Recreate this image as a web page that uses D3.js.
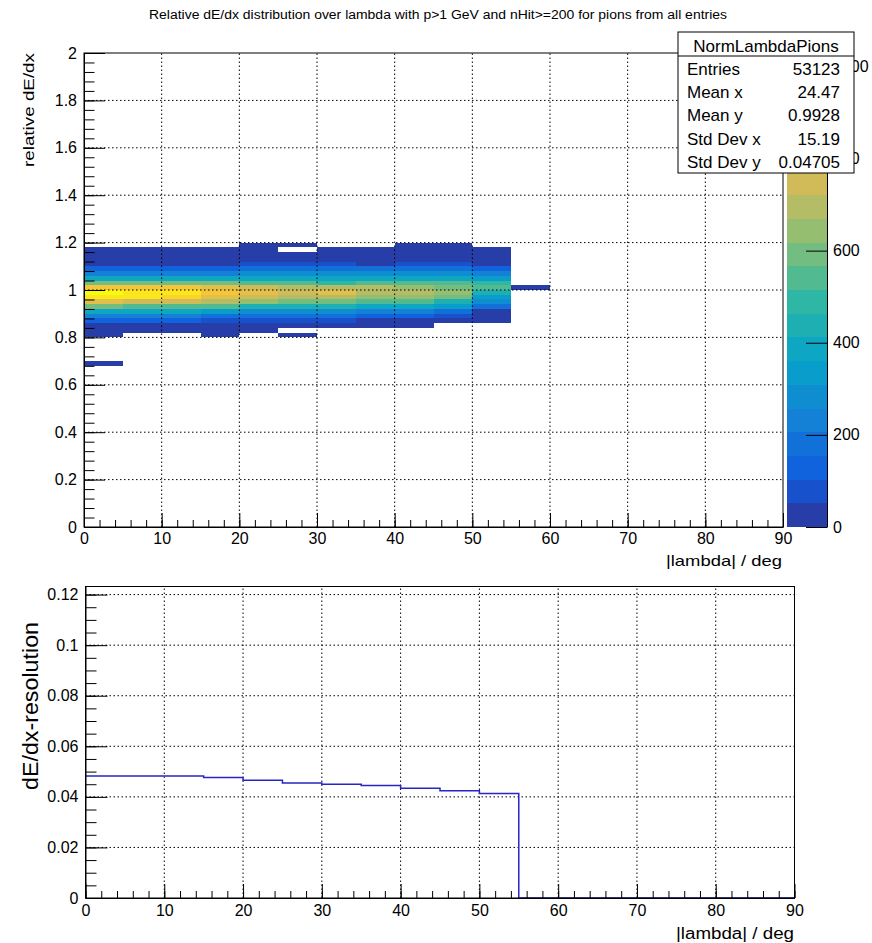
<!DOCTYPE html>
<html><head><meta charset="utf-8">
<script src="https://cdn.jsdelivr.net/npm/d3@7"></script>
<style>
body{margin:0;background:#fff}
svg text{font-family:"Liberation Sans",Arial,Helvetica,sans-serif;fill:#000}
</style></head>
<body><svg id="c" width="872" height="943"></svg>
<script>
// ---------------- DATA ----------------
const lambdaLow = [0,5,10,15,20,25,30,35,40,45,50,55];      // |lambda| bin lower edges (deg)
const lambdaWidth = 5;
const dedxLow = [0.80,0.82,0.84,0.86,0.88,0.90,0.92,0.94,0.96,0.98,1.00,1.02,1.04,1.06,1.08,1.10,1.12,1.14,1.16,1.18];
const dedxWidth = 0.02;
// bin contents per lambda column, one entry per dedxLow bin
const cnt_00_05 = [14,31,45,129,236,390,596,801,970,1029,852,590,383,230,127,44,28,17,9,0];
const cnt_05_10 = [0,22,43,131,234,388,545,748,930,968,850,594,389,233,128,46,27,15,8,0];
const cnt_10_15 = [0,25,44,127,230,384,542,744,915,940,846,588,385,231,126,42,25,13,6,0];
const cnt_15_20 = [5,19,40,79,182,337,541,694,798,851,799,593,387,233,129,45,26,14,7,0];
const cnt_20_25 = [0,18,38,80,181,285,438,644,747,800,745,541,387,284,180,78,38,20,10,3];
const cnt_25_30 = [4,0,37,78,183,286,436,591,697,748,694,540,385,282,179,76,35,18,0,3];
const cnt_30_35 = [0,0,36,79,181,284,437,593,696,800,693,490,384,281,178,75,34,17,8,0];
const cnt_35_40 = [0,0,33,47,129,232,386,540,643,694,696,539,387,283,180,45,30,16,7,0];
const cnt_40_45 = [0,0,30,46,128,231,385,538,642,693,644,540,386,284,181,77,36,19,9,3];
const cnt_45_50 = [0,0,0,38,76,179,334,436,592,643,591,541,385,282,179,76,35,17,8,2];
const cnt_50_55 = [0,0,0,27,41,49,180,282,334,437,540,488,333,231,128,44,28,15,6,0];
const cnt_55_60 = [0,0,0,0,0,0,0,0,0,0,2,0,0,0,0,0,0,0,0,0];
const columns = [cnt_00_05,cnt_05_10,cnt_10_15,cnt_15_20,cnt_20_25,cnt_25_30,cnt_30_35,cnt_35_40,cnt_40_45,cnt_45_50,cnt_50_55,cnt_55_60];
// isolated low cell
const extraLambda = [0];
const extraDedx = [0.68];
const extraCount = [3];

// resolution histogram (bins of 5 deg)
const resLow = [0,5,10,15,20,25,30,35,40,45,50,55,60,65,70,75,80,85];
const resolution = [0.0483,0.0483,0.0483,0.0477,0.0466,0.0455,0.0450,0.0445,0.0434,0.0424,0.0413,0,0,0,0,0,0,0];

// ticks / labels
const xTicks = [0,10,20,30,40,50,60,70,80,90];
const yTicksTop = [0,0.2,0.4,0.6,0.8,1,1.2,1.4,1.6,1.8,2];
const zTicks = [0,200,400,600,800,1000];
const yTicksBottom = [0,0.02,0.04,0.06,0.08,0.1,0.12];
const statsName = "NormLambdaPions";
const statsLabels = ["Entries","Mean x","Mean y","Std Dev x","Std Dev y"];
const statsValues = ["53123","24.47","0.9928","15.19","0.04705"];
const mainTitle = "Relative dE/dx distribution over lambda with p>1 GeV and nHit>=200 for pions from all entries";

// ---------------- PALETTE (ROOT kBird) ----------------
const bStops = [0,0.125,0.25,0.375,0.5,0.625,0.75,0.875,1];
const bRed   = [0.2082,0.0592,0.0780,0.0232,0.1802,0.5301,0.8186,0.9956,0.9764];
const bGreen = [0.1664,0.3599,0.5041,0.6419,0.7178,0.7492,0.7328,0.7862,0.9832];
const bBlue  = [0.5293,0.8684,0.8385,0.7914,0.6425,0.4662,0.3499,0.1968,0.0539];
const rS = d3.scaleLinear().domain(bStops).range(bRed);
const gS = d3.scaleLinear().domain(bStops).range(bGreen);
const bS = d3.scaleLinear().domain(bStops).range(bBlue);
const NCOL = 255, NDIV = 20;
function levelColor(k){
  const idx = Math.min(NCOL-1, Math.floor((k+0.99)*NCOL/NDIV));
  const f = idx/(NCOL-1);
  return d3.rgb(rS(f)*255, gS(f)*255, bS(f)*255).formatHex();
}

const svg = d3.select("#c");
const font = '"Liberation Sans",Arial,Helvetica,sans-serif';

// clip region outside the stats box (for partially hidden colour-bar labels)
const SB = {x:678, y:32, w:176, h:141};
const cp = svg.append("defs").append("clipPath").attr("id","outsideStats");
cp.append("rect").attr("x",0).attr("y",SB.y+SB.h).attr("width",872).attr("height",943);
cp.append("rect").attr("x",SB.x+SB.w).attr("y",0).attr("width",872).attr("height",SB.y+SB.h);

// ---------------- TOP PLOT ----------------
const X0=84, X1=783, Y0=53, Y1=527;
const x = d3.scaleLinear().domain([0,90]).range([X0,X1]);
const y = d3.scaleLinear().domain([0,2]).range([Y1,Y0]);
const zmax = d3.max(columns.flat().concat(extraCount));
const z = d3.scaleLinear().domain([0,zmax]).range([Y1,Y0]);
const level = v => Math.min(NDIV-1, Math.floor(0.01 + v*NDIV/zmax));

const cells = [];
columns.forEach((col,i)=>col.forEach((v,j)=>{ if(v>0) cells.push({lx:lambdaLow[i], dy:dedxLow[j], v}); }));
extraCount.forEach((v,i)=>cells.push({lx:extraLambda[i], dy:extraDedx[i], v}));

svg.append("g").selectAll("rect").data(cells).join("rect")
  .attr("x", d=>x(d.lx)).attr("width", d=>x(d.lx+lambdaWidth)-x(d.lx))
  .attr("y", d=>y(d.dy+dedxWidth)).attr("height", d=>y(d.dy)-y(d.dy+dedxWidth))
  .attr("fill", d=>levelColor(level(d.v)))
  .attr("shape-rendering","crispEdges");

const gGridTop = svg.append("g").attr("stroke","#000").attr("stroke-width",1).attr("stroke-dasharray","1.5,2.5");
gGridTop.selectAll(".gx").data(xTicks.slice(1,-1)).join("line").attr("class","gx")
  .attr("x1",d=>x(d)).attr("x2",d=>x(d)).attr("y1",Y1).attr("y2",Y0);
gGridTop.selectAll(".gy").data(yTicksTop.slice(1,-1)).join("line").attr("class","gy")
  .attr("y1",d=>y(d)).attr("y2",d=>y(d)).attr("x1",X0).attr("x2",X1);

svg.append("rect").attr("x",X0).attr("y",Y0).attr("width",X1-X0).attr("height",Y1-Y0)
  .attr("fill","none").attr("stroke","#000").attr("stroke-width",1);

function styleAxis(g, size){
  g.selectAll("text").attr("font-family",font).attr("font-size",size).attr("fill","#000");
  g.selectAll("line,path").attr("stroke","#000");
  g.attr("font-family",null).attr("font-size",null);
}
const xMinor = d3.range(46).map(i=>i*2);
const yMinorTop = d3.range(51).map(i=>i*0.04);
svg.append("g").attr("transform",`translate(0,${Y1})`)
  .call(d3.axisBottom(x).tickValues(xMinor).tickSize(-7).tickFormat("").tickSizeOuter(0))
  .call(g=>{g.select(".domain").remove(); styleAxis(g,16);});
svg.append("g").attr("transform",`translate(${X0},0)`)
  .call(d3.axisLeft(y).tickValues(yMinorTop).tickSize(-10.5).tickFormat("").tickSizeOuter(0))
  .call(g=>{g.select(".domain").remove(); styleAxis(g,16);});
svg.append("g").attr("transform",`translate(0,${Y1})`)
  .call(d3.axisBottom(x).tickValues(xTicks).tickSize(-14).tickPadding(6).tickSizeOuter(0).tickFormat(d3.format("d")))
  .call(g=>styleAxis(g,16));
svg.append("g").attr("transform",`translate(${X0},0)`)
  .call(d3.axisLeft(y).tickValues(yTicksTop).tickSize(-21).tickPadding(7).tickSizeOuter(0).tickFormat(d=>String(+d.toFixed(2))))
  .call(g=>styleAxis(g,16));

svg.append("text").attr("x",782).attr("y",566).attr("text-anchor","end")
  .attr("font-size",15).attr("textLength",116).attr("lengthAdjust","spacingAndGlyphs").text("|lambda| / deg");
svg.append("text").attr("transform","translate(33.5,53) rotate(-90)").attr("text-anchor","end")
  .attr("font-size",15).attr("textLength",114).attr("lengthAdjust","spacingAndGlyphs").text("relative dE/dx");

// colour bar
const CB0=787, CB1=827;
svg.append("g").selectAll("rect").data(d3.range(NDIV)).join("rect")
  .attr("x",CB0).attr("width",CB1-CB0)
  .attr("y",k=>z((k+1)*zmax/NDIV)).attr("height",k=>z(k*zmax/NDIV)-z((k+1)*zmax/NDIV))
  .attr("fill",k=>levelColor(k)).attr("shape-rendering","crispEdges");
svg.append("g").attr("clip-path","url(#outsideStats)")
  .append("g").attr("transform",`translate(${CB1},0)`)
  .call(d3.axisRight(z).tickValues(zTicks).tickSize(-21).tickPadding(6).tickSizeOuter(0).tickFormat(d3.format("d")))
  .call(g=>styleAxis(g,16));

svg.append("text").attr("x",438).attr("y",19).attr("text-anchor","middle")
  .attr("font-size",12).attr("textLength",578).attr("lengthAdjust","spacingAndGlyphs").text(mainTitle);

// stats box
const sg = svg.append("g");
sg.append("rect").attr("x",SB.x).attr("y",SB.y).attr("width",SB.w).attr("height",SB.h)
  .attr("fill","#fff").attr("stroke","#000").attr("stroke-width",1);
sg.append("line").attr("x1",SB.x).attr("x2",SB.x+SB.w).attr("y1",56).attr("y2",56).attr("stroke","#000");
sg.append("text").attr("x",SB.x+SB.w/2).attr("y",51.5).attr("text-anchor","middle").attr("font-size",17).text(statsName);
sg.selectAll(".sl").data(statsLabels).join("text").attr("class","sl")
  .attr("x",687).attr("y",(d,i)=>75+i*23.2).attr("font-size",17).text(d=>d);
sg.selectAll(".sv").data(statsValues).join("text").attr("class","sv")
  .attr("x",840).attr("y",(d,i)=>75+i*23.2).attr("text-anchor","end").attr("font-size",17).text(d=>d);

// ---------------- BOTTOM PLOT ----------------
const BX0=85.5, BX1=794.5, BY0=586.5, BY1=898;
const bx = d3.scaleLinear().domain([0,90]).range([BX0,BX1]);
const by = d3.scaleLinear().domain([0,0.1232]).range([BY1,BY0]);

const gGridBot = svg.append("g").attr("stroke","#000").attr("stroke-width",1).attr("stroke-dasharray","1.5,2.5");
gGridBot.selectAll(".gx").data(xTicks.slice(1,-1)).join("line").attr("class","gx")
  .attr("x1",d=>bx(d)).attr("x2",d=>bx(d)).attr("y1",BY1).attr("y2",BY0);
gGridBot.selectAll(".gy").data(yTicksBottom.slice(1)).join("line").attr("class","gy")
  .attr("y1",d=>by(d)).attr("y2",d=>by(d)).attr("x1",BX0).attr("x2",BX1);

const stepPts = resLow.map((l,i)=>[l,resolution[i]]);
stepPts.push([resLow[resLow.length-1]+lambdaWidth, resolution[resolution.length-1]]);
svg.append("path").datum(stepPts)
  .attr("d", d3.line().x(d=>bx(d[0])).y(d=>by(d[1])).curve(d3.curveStepAfter))
  .attr("fill","none").attr("stroke","#2626c4").attr("stroke-width",1.5);

svg.append("rect").attr("x",BX0).attr("y",BY0).attr("width",BX1-BX0).attr("height",BY1-BY0)
  .attr("fill","none").attr("stroke","#000").attr("stroke-width",1);

const yMinorBot = d3.range(25).map(i=>i*0.005);
svg.append("g").attr("transform",`translate(0,${BY1})`)
  .call(d3.axisBottom(bx).tickValues(xMinor).tickSize(-7).tickFormat("").tickSizeOuter(0))
  .call(g=>{g.select(".domain").remove(); styleAxis(g,16);});
svg.append("g").attr("transform",`translate(${BX0},0)`)
  .call(d3.axisLeft(by).tickValues(yMinorBot).tickSize(-11).tickFormat("").tickSizeOuter(0))
  .call(g=>{g.select(".domain").remove(); styleAxis(g,16);});
svg.append("g").attr("transform",`translate(0,${BY1})`)
  .call(d3.axisBottom(bx).tickValues(xTicks).tickSize(-14).tickPadding(7).tickSizeOuter(0).tickFormat(d3.format("d")))
  .call(g=>styleAxis(g,16));
svg.append("g").attr("transform",`translate(${BX0},0)`)
  .call(d3.axisLeft(by).tickValues(yTicksBottom).tickSize(-22).tickPadding(7).tickSizeOuter(0).tickFormat(d=>String(+d.toFixed(3))))
  .call(g=>styleAxis(g,16));

svg.append("text").attr("x",794).attr("y",939).attr("text-anchor","end")
  .attr("font-size",16).attr("textLength",118).attr("lengthAdjust","spacingAndGlyphs").text("|lambda| / deg");
svg.append("text").attr("transform","translate(38,622) rotate(-90)").attr("text-anchor","end")
  .attr("font-size",22).attr("textLength",168).attr("lengthAdjust","spacingAndGlyphs").text("dE/dx-resolution");
</script>
</body></html>
